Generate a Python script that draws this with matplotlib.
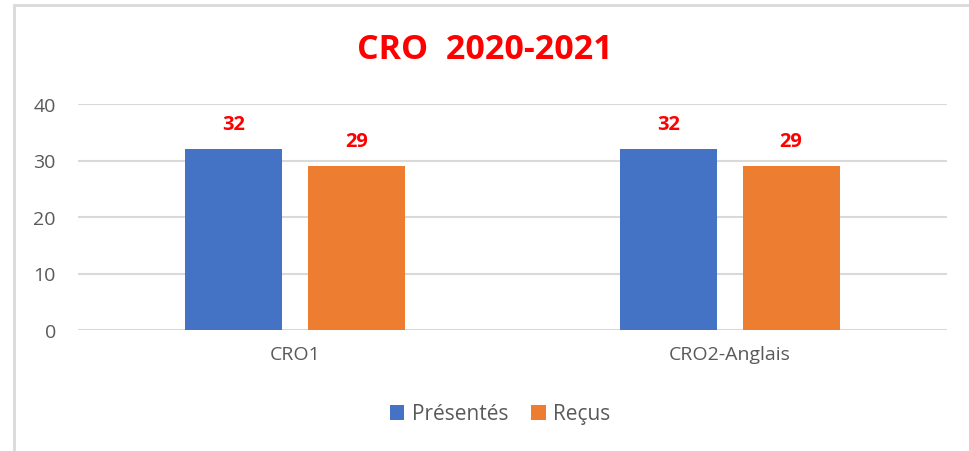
import matplotlib.pyplot as plt
from matplotlib.patches import Rectangle
import numpy as np

plt.rcParams['font.family'] = ['Open Sans', 'DejaVu Sans']

categories = ['CRO1', 'CRO2-Anglais']
presentes = [32, 32]
recus = [29, 29]
series_names = ['Présentés', 'Reçus']

BLUE = '#4472C4'
ORANGE = '#ED7D31'
GREY = '#595959'
GRID = '#D9D9D9'

fig = plt.figure(figsize=(9.7, 4.52), dpi=100)
ax = fig.add_axes([78 / 970, 1 - 331 / 452, (947 - 78) / 970, (331 - 105) / 452])

# outer chart border (only top and left visible)
fig.patches.append(Rectangle((14 / 970, -0.2), 1.2, 1.2 - 6 / 452,
                             transform=fig.transFigure, fill=False,
                             edgecolor=GRID, linewidth=2))

x = np.arange(len(categories))
w = 0.223
off = w / 2 + 0.03
b1 = ax.bar(x - off, presentes, w, color=BLUE, label=series_names[0], zorder=3)
b2 = ax.bar(x + off, recus, w, color=ORANGE, label=series_names[1], zorder=3)

for bars in (b1, b2):
    for r in bars:
        ax.annotate(str(int(r.get_height())),
                    (r.get_x() + r.get_width() / 2, r.get_height()),
                    xytext=(0, 18), textcoords='offset points',
                    ha='center', va='center', color='red',
                    fontsize=14.5, fontweight='bold')

ax.set_xlim(-0.5, len(categories) - 0.5)
ax.set_ylim(0, 40)
ax.set_yticks(range(0, 41, 10))
ax.set_xticks(x)
ax.set_xticklabels(categories)
ax.yaxis.grid(True, color=GRID, linewidth=1.5, zorder=0)
ax.set_axisbelow(True)
for s in ax.spines.values():
    s.set_visible(False)
ax.tick_params(axis='both', length=0, labelsize=14, labelcolor=GREY)
ax.tick_params(axis='y', pad=16)
ax.tick_params(axis='x', pad=11)

fig.text(0.5, 1 - 50 / 452, 'CRO  2020-2021', ha='center', va='center',
         color='red', fontsize=24.5, fontweight='bold')

leg = fig.legend(handles=[b1, b2], loc='center', bbox_to_anchor=(500 / 970, 1 - 415 / 452),
                 ncol=2, frameon=False, fontsize=15, handlelength=0.7,
                 handleheight=0.7, handletextpad=0.35, columnspacing=1.1)
for t in leg.get_texts():
    t.set_color(GREY)

fig.savefig('out.png', dpi=100)
